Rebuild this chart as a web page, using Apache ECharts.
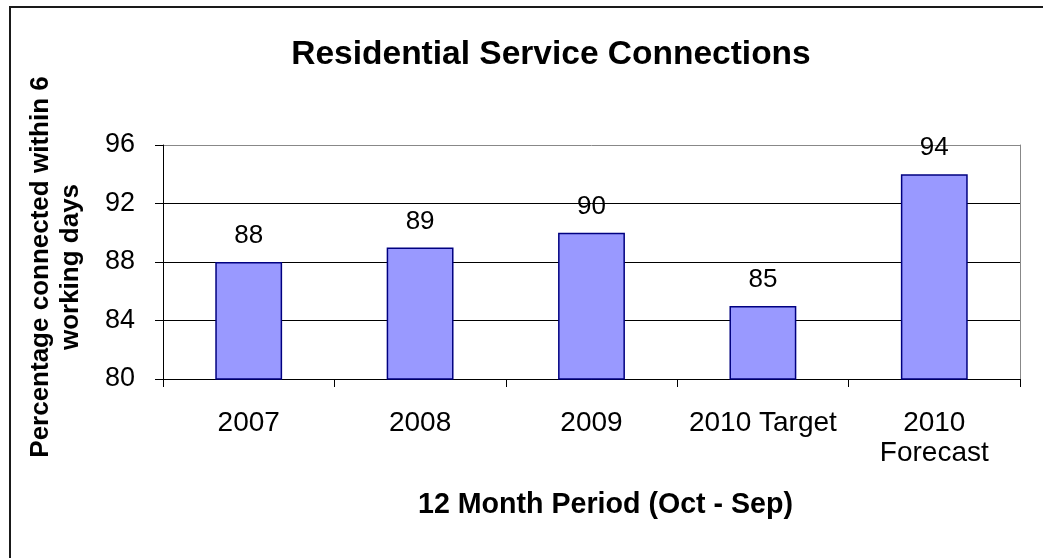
<!DOCTYPE html>
<html>
<head>
<meta charset="utf-8">
<script src="https://cdn.jsdelivr.net/npm/echarts@6/dist/echarts.min.js"></script>
<style>
html,body{margin:0;padding:0;background:#fff;}
#chart{width:1043px;height:558px;}
</style>
</head>
<body>
<div id="chart"></div>
<script>
var categories = ['2007', '2008', '2009', '2010 Target', '2010\nForecast'];
var values = [88, 89, 90, 85, 94];
var yTicks = { min: 80, max: 96, interval: 4 };
var titleText = 'Residential Service Connections';
var xName = '12 Month Period (Oct - Sep)';
var yName = 'Percentage connected within 6\nworking days';

var FONT = '"Liberation Sans", Arial, sans-serif';
var chart = echarts.init(document.getElementById('chart'), null, { renderer: 'canvas' });
chart.setOption({
  backgroundColor: '#fff',
  animation: false,
  title: {
    text: titleText,
    left: 546,
    textAlign: 'center',
    top: 33,
    textStyle: { fontFamily: FONT, fontSize: 33.5, fontWeight: 'bold', color: '#000' }
  },
  graphic: [{
    type: 'rect',
    shape: { x: 10, y: 7, width: 1060, height: 600 },
    style: { fill: 'none', stroke: '#1a1a1a', lineWidth: 2 },
    silent: true
  }],
  grid: { left: 163, right: 23, top: 145, bottom: 179, containLabel: false },
  xAxis: {
    type: 'category',
    data: categories,
    name: xName,
    nameLocation: 'middle',
    nameGap: 112,
    nameTextStyle: { fontFamily: FONT, fontSize: 28.6, fontWeight: 'bold', color: '#000', padding: [0, 0, 0, 28] },
    axisLine: { lineStyle: { color: '#000', width: 1 } },
    axisTick: { show: true, length: 8, alignWithLabel: false, lineStyle: { color: '#000' } },
    axisLabel: { fontFamily: FONT, fontSize: 28, color: '#000', margin: 29, lineHeight: 30, interval: 0 }
  },
  yAxis: [{
    type: 'value',
    min: yTicks.min, max: yTicks.max, interval: yTicks.interval,
    name: yName,
    nameLocation: 'middle',
    nameRotate: 90,
    nameGap: 77,
    nameTextStyle: { fontFamily: FONT, fontSize: 26, fontWeight: 'bold', color: '#000', lineHeight: 30, padding: [0, 10, 0, 0] },
    axisLine: { show: true, lineStyle: { color: '#000', width: 1 } },
    axisTick: { show: true, length: 8, lineStyle: { color: '#000' } },
    axisLabel: { fontFamily: FONT, fontSize: 27, color: '#000', margin: 28 },
    splitLine: { show: true, lineStyle: { color: ['#000', '#000', '#000', '#000', '#888'], width: 1 } }
  }, {
    type: 'value',
    position: 'right',
    min: yTicks.min, max: yTicks.max, interval: yTicks.interval,
    axisLine: { show: true, lineStyle: { color: '#888', width: 1 } },
    axisTick: { show: false },
    axisLabel: { show: false },
    splitLine: { show: false }
  }],
  series: [{
    type: 'bar',
    data: values,
    barWidth: '39%',
    itemStyle: { color: '#9999FF', borderColor: '#000080', borderWidth: 1.5 },
    label: {
      show: true, position: 'top', distance: 13,
      fontFamily: FONT, fontSize: 26, color: '#000'
    }
  }]
});
</script>
</body>
</html>
